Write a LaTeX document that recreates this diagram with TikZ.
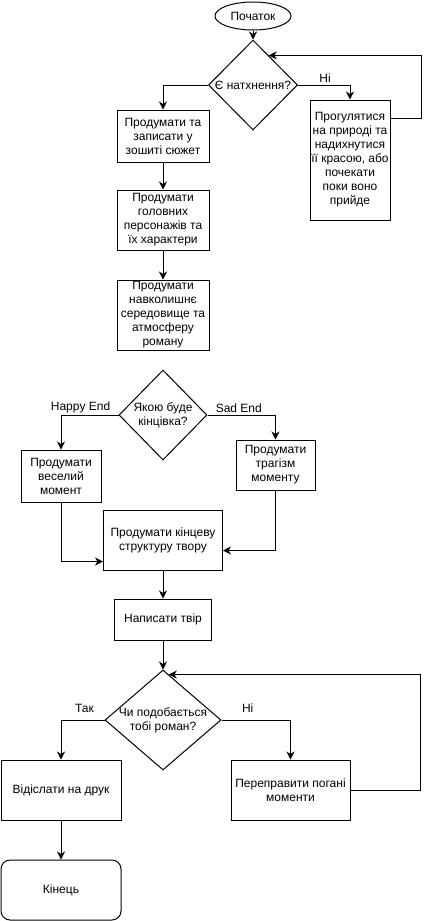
\documentclass[tikz,border=0pt]{standalone}
\usepackage{fontspec}
\setmainfont{Liberation Sans}
\usetikzlibrary{shapes.geometric,arrows.meta,calc}

\begin{document}
\begin{tikzpicture}[x=1pt,y=-1pt,
  font=\fontsize{12}{14}\selectfont,
  box/.style={draw,line width=1pt,align=center,inner sep=0pt},
  decision/.style={draw,diamond,line width=1pt,inner sep=0pt},
  arr/.style={line width=1pt,-{Stealth[length=8pt,width=8pt,inset=2.5pt]}},
  lbl/.style={above,inner sep=2pt}]
\useasboundingbox (0,0) rectangle (429,921);

% first part
\node[draw,ellipse,line width=1pt,minimum width=76pt,minimum height=28pt,inner sep=0pt] (start) at (253,16) {Початок};
\node[decision,minimum width=89pt,minimum height=90pt,label={center:Є натхнення?}] (q1) at (253,85) {};
\node[box,minimum width=92pt,minimum height=52pt] (plot) at (163,136) {Продумати та\\записати у\\зошиті сюжет};
\node[box,minimum width=92pt,minimum height=60pt] (heroes) at (163,220) {Продумати\\головних\\персонажів та\\їх характери};
\node[box,minimum width=92pt,minimum height=70pt] (world) at (163,315) {Продумати\\навколишнє\\середовище та\\атмосферу\\роману};
\node[box,minimum width=80pt,minimum height=120pt] (walk) at (350,160) {Прогулятися\\на природі та\\надихнутися\\її красою, або\\почекати\\поки воно\\прийде};

\coordinate (q1in) at ($(q1.north)!0.35!(q1.east)$);
\coordinate (walkout) at ($(walk.north east)+(0,19)$);

\draw[arr] (start) -- (q1);
\draw[arr] (q1.west) -| (plot.north);
\draw[arr] (q1.east) -| node[lbl,pos=0.26] {Ні} (walk.north);
\draw[arr] (walkout) -- ++(31,0) |- (q1in);
\draw[arr] (plot) -- (heroes);
\draw[arr] (heroes) -- (world);

% ending
\node[decision,minimum width=88pt,minimum height=90pt,label={[align=center]center:Якою буде\\кінцівка?}] (q2) at (163,415) {};
\node[box,minimum width=80pt,minimum height=52pt] (happy) at (61,476) {Продумати\\веселий\\момент};
\node[box,minimum width=79pt,minimum height=50pt] (sad) at (275.5,465) {Продумати\\трагізм\\моменту};
\node[box,minimum width=119pt,minimum height=60pt] (final) at (163,540) {Продумати кінцеву\\структуру твору};
\node[box,minimum width=97pt,minimum height=41pt] (write) at (163,619.5) {Написати твір};

\coordinate (finL) at ($(final.south west)+(0,-9)$);
\coordinate (finR) at ($(final.south east)+(0,-20)$);

\draw[arr] (q2.west) -| node[lbl,pos=0.33] {Happy End} (happy.north);
\draw[arr] (q2.east) -| node[lbl,pos=0.23] {Sad End} (sad.north);
\draw[arr] (happy.south) |- (finL);
\draw[arr] (sad.south) |- (finR);
\draw[arr] (final) -- (write);

% check
\node[decision,minimum width=116pt,minimum height=100pt,label={[align=center]center:Чи подобається\\тобі роман?}] (q3) at (163,720) {};
\node[box,minimum width=120pt,minimum height=60pt] (send) at (61,790) {Відіслати на друк};
\node[box,minimum width=119pt,minimum height=60pt] (fix) at (290.5,790) {Переправити погані\\моменти};
\node[box,rounded corners=9pt,minimum width=120pt,minimum height=60pt] (end) at (61,890) {Кінець};

\coordinate (q3in) at ($(q3.north)!0.1!(q3.east)$);

\draw[arr] (write) -- (q3);
\draw[arr] (q3.west) -| node[lbl,pos=0.23,yshift=5pt] {Так} (send.north);
\draw[arr] (q3.east) -| node[lbl,pos=0.19,yshift=5pt] {Ні} (fix.north);
\draw[arr] (fix.east) -- ++(70,0) |- (q3in);
\draw[arr] (send) -- (end);
\end{tikzpicture}
\end{document}
